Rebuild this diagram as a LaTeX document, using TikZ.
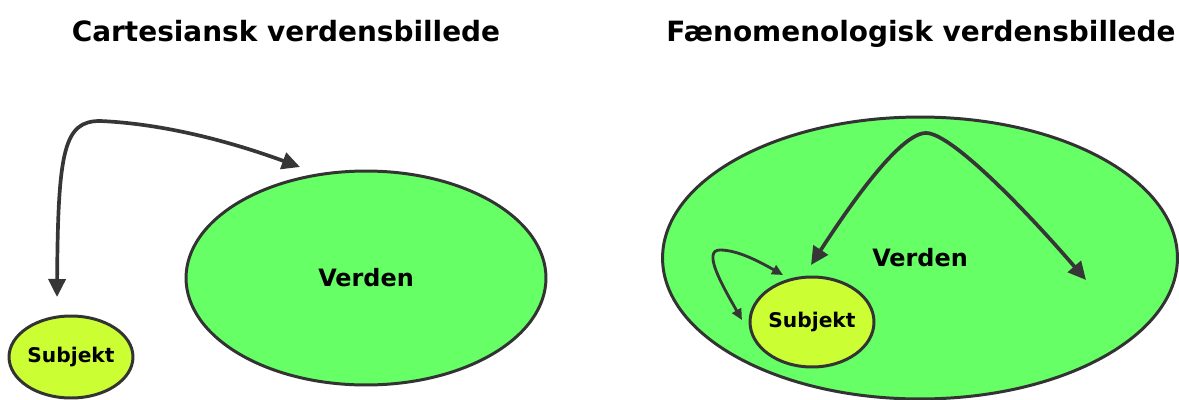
\documentclass[tikz,border=0pt]{standalone}
\usepackage{fontspec}
\setmainfont{DejaVu Sans}
\usetikzlibrary{shapes.geometric,arrows.meta}
\definecolor{verdengreen}{HTML}{66FF66}
\definecolor{subjektgreen}{HTML}{CCFF33}
\definecolor{rim}{HTML}{333333}
\definecolor{pilgray}{HTML}{363636}
\begin{document}
\begin{tikzpicture}[x=0.02cm, y=-0.02cm,
    blob/.style={ellipse, draw=rim, line width=1.7pt, inner sep=0pt},
    verden/.style={blob, fill=verdengreen, font=\bfseries\fontsize{13.6}{16}\selectfont},
    subjekt/.style={blob, fill=subjektgreen, font=\bfseries\fontsize{11.5}{13}\selectfont},
    title/.style={font=\bfseries\fontsize{15.9}{18}\selectfont, anchor=base},
    pil/.style={draw=pilgray, line width=2.1pt, {Triangle[length=0.36cm,width=0.34cm]}-{Triangle[length=0.36cm,width=0.34cm]}},
    lillepil/.style={draw=pilgray, line width=1.6pt, {Triangle[length=0.22cm,width=0.2cm]}-{Triangle[length=0.22cm,width=0.2cm]}}]
    \useasboundingbox (0,0) rectangle (1179,399);
    % cartesiansk
    \node[title] (titleL) at (286,41) {Cartesiansk verdensbillede};
    \node[verden, minimum width=7.2cm, minimum height=4.28cm] (verdenL) at (366,278) {Verden};
    \node[subjekt, minimum width=2.48cm, minimum height=1.64cm] (subL) at (71,357) {Subjekt};
    \coordinate (pilS) at (57,297);
    \coordinate (pilV) at (300,167);
    \draw[pil] (pilS) .. controls (58,150) and (64,121) .. (100,121)
        .. controls (170,124) and (240,145) .. (pilV);
    % fænomenologisk
    \node[title] (titleR) at (921,41) {Fænomenologisk verdensbillede};
    \node[verden, minimum width=10.3cm, minimum height=5.64cm] (verdenR) at (920,258) {Verden};
    \node[subjekt, minimum width=2.48cm, minimum height=1.8cm] (subR) at (812,322) {Subjekt};
    \coordinate (pilA) at (811,265);
    \coordinate (pilB) at (1086,280);
    \coordinate (pilC) at (742,320);
    \coordinate (pilD) at (783,275);
    \draw[pil] (pilA) .. controls (850,205) and (900,133) .. (926,133)
        .. controls (952,133) and (1030,215) .. (pilB);
    \draw[lillepil] (pilC) .. controls (722,285) and (702,250) .. (720,250)
        .. controls (738,250) and (760,262) .. (pilD);
\end{tikzpicture}
\end{document}
